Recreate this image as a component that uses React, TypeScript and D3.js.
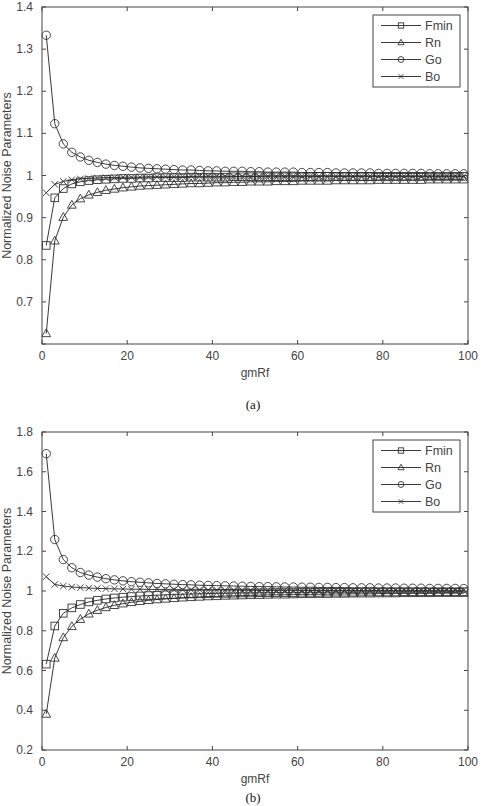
import React from "react";
import * as d3 from "d3";

const xs: number[] = d3.range(1, 100, 2);

const fminA = [0.834,0.947,0.969,0.980,0.985,0.988,0.990,0.991,0.992,0.993,
  0.993,0.994,0.994,0.995,0.995,0.995,0.995,0.996,0.996,0.996,
  0.996,0.996,0.997,0.997,0.997,0.997,0.997,0.997,0.997,0.997,
  0.997,0.997,0.998,0.998,0.998,0.998,0.998,0.998,0.998,0.998,
  0.998,0.998,0.998,0.998,0.998,0.998,0.998,0.998,0.998,0.998];
const rnA = [0.625,0.845,0.901,0.930,0.945,0.954,0.960,0.965,0.968,0.971,
  0.973,0.975,0.976,0.977,0.978,0.979,0.980,0.981,0.981,0.982,
  0.983,0.983,0.984,0.984,0.985,0.985,0.985,0.986,0.986,0.986,
  0.987,0.987,0.987,0.987,0.988,0.988,0.988,0.988,0.988,0.989,
  0.989,0.989,0.989,0.989,0.989,0.990,0.990,0.990,0.990,0.990];
const goA = [1.333,1.123,1.075,1.055,1.044,1.036,1.031,1.027,1.024,1.022,
  1.020,1.018,1.017,1.016,1.015,1.014,1.013,1.013,1.012,1.011,
  1.011,1.010,1.010,1.010,1.009,1.009,1.008,1.008,1.008,1.008,
  1.007,1.007,1.007,1.007,1.006,1.006,1.006,1.006,1.006,1.005,
  1.005,1.005,1.005,1.005,1.005,1.004,1.004,1.004,1.004,1.004];
const boA = [0.959,0.979,0.986,0.990,0.992,0.993,0.994,0.995,0.995,0.996,
  0.996,0.996,0.997,0.997,0.997,0.997,0.997,0.998,0.998,0.998,
  0.998,0.998,0.998,0.998,0.998,0.998,0.999,0.999,0.999,0.999,
  0.999,0.999,0.999,0.999,0.999,0.999,0.999,0.999,0.999,0.999,
  0.999,0.999,0.999,0.999,0.999,0.999,0.999,0.999,0.999,0.999];

const fminB = [0.632,0.824,0.888,0.915,0.932,0.945,0.953,0.960,0.965,0.969,
  0.972,0.975,0.977,0.979,0.981,0.982,0.984,0.985,0.986,0.987,
  0.988,0.988,0.989,0.990,0.990,0.991,0.991,0.992,0.992,0.992,
  0.993,0.993,0.993,0.994,0.994,0.994,0.994,0.995,0.995,0.995,
  0.995,0.995,0.996,0.996,0.996,0.996,0.996,0.996,0.996,0.997];
const rnB = [0.381,0.663,0.766,0.822,0.858,0.885,0.903,0.917,0.928,0.936,
  0.943,0.948,0.953,0.957,0.960,0.963,0.966,0.968,0.970,0.972,
  0.973,0.975,0.976,0.977,0.978,0.979,0.980,0.981,0.981,0.982,
  0.983,0.983,0.984,0.984,0.985,0.985,0.986,0.986,0.986,0.987,
  0.987,0.987,0.988,0.988,0.988,0.988,0.989,0.989,0.989,0.989];
const goB = [1.691,1.259,1.158,1.117,1.093,1.080,1.070,1.062,1.056,1.051,
  1.047,1.044,1.041,1.038,1.036,1.034,1.032,1.031,1.029,1.028,
  1.027,1.026,1.025,1.024,1.023,1.022,1.022,1.021,1.020,1.020,
  1.019,1.019,1.018,1.018,1.017,1.017,1.016,1.016,1.016,1.015,
  1.015,1.015,1.014,1.014,1.014,1.013,1.013,1.013,1.013,1.012];
const boB = [1.072,1.033,1.025,1.020,1.017,1.015,1.013,1.012,1.011,1.010,
  1.009,1.009,1.008,1.008,1.007,1.007,1.006,1.006,1.006,1.005,
  1.005,1.005,1.005,1.004,1.004,1.004,1.004,1.004,1.004,1.004,
  1.003,1.003,1.003,1.003,1.003,1.003,1.003,1.003,1.003,1.003,
  1.003,1.003,1.003,1.003,1.003,1.003,1.003,1.003,1.003,1.003];

const seriesNames = ["Fmin", "Rn", "Go", "Bo"];
const markers = ["square", "triangle", "circle", "cross"];
const xTicks = [0, 20, 40, 60, 80, 100];
const yTicksA = [0.7, 0.8, 0.9, 1, 1.1, 1.2, 1.3, 1.4];
const yTicksB = [0.2, 0.4, 0.6, 0.8, 1, 1.2, 1.4, 1.6, 1.8];

const AX = "#444";
const TXT = "#444";
const LINE = "#222";
const FONT = "'Liberation Sans', Arial, sans-serif";

function Marker({ type, x, y, k = 1 }: { type: string; x: number; y: number; k?: number }) {
  const s = 3.8 * k;
  const common = { fill: "none", stroke: "#333", strokeWidth: 0.9 };
  if (type === "square")
    return <rect x={x - s} y={y - s} width={2 * s} height={2 * s} {...common} />;
  if (type === "circle") return <circle cx={x} cy={y} r={4.2 * k} {...common} />;
  if (type === "triangle")
    return (
      <path
        d={`M${x},${y - 4.6 * k}L${x + 4.4 * k},${y + 3.2 * k}L${x - 4.4 * k},${y + 3.2 * k}Z`}
        {...common}
      />
    );
  const c = 3.2 * k;
  return (
    <path
      d={`M${x - c},${y - c}L${x + c},${y + c}M${x - c},${y + c}L${x + c},${y - c}`}
      {...common}
    />
  );
}

function Panel({
  top,
  bottom,
  domain,
  yTicks,
  data,
  caption,
  captionY,
}: {
  top: number;
  bottom: number;
  domain: [number, number];
  yTicks: number[];
  data: number[][];
  caption: string;
  captionY: number;
}) {
  const left = 42;
  const right = 468;
  const x = d3.scaleLinear().domain([0, 100]).range([left, right]);
  const y = d3.scaleLinear().domain(domain).range([bottom, top]);
  const allYTicks = [domain[0], ...yTicks.filter((t) => t !== domain[0])];
  const line = d3
    .line<number>()
    .x((_, i) => x(xs[i]))
    .y((d) => y(d));
  const tl = 4;
  const legX = 373;
  const legTop = top + 8;
  const legW = 87;
  const legStep = 17;
  const legH = legStep * 3 + 21;
  return (
    <g>
      {data.map((vals, si) => (
        <g key={si}>
          <path d={line(vals) || ""} fill="none" stroke={LINE} strokeWidth={0.9} />
          {vals.map((v, i) => (
            <Marker key={i} type={markers[si]} x={x(xs[i])} y={y(v)} />
          ))}
        </g>
      ))}
      <rect
        x={left}
        y={top}
        width={right - left}
        height={bottom - top}
        fill="none"
        stroke={AX}
        strokeWidth={1}
      />
      {xTicks.map((t) => (
        <g key={t}>
          <line x1={x(t)} x2={x(t)} y1={bottom} y2={bottom - tl} stroke={AX} />
          <line x1={x(t)} x2={x(t)} y1={top} y2={top + tl} stroke={AX} />
          <text
            x={x(t)}
            y={bottom + 16}
            textAnchor="middle"
            fontFamily={FONT}
            fontSize={12}
            fill={TXT}
          >
            {t}
          </text>
        </g>
      ))}
      {allYTicks.map((t) => (
        <g key={t}>
          <line x1={left} x2={left + tl} y1={y(t)} y2={y(t)} stroke={AX} />
          <line x1={right} x2={right - tl} y1={y(t)} y2={y(t)} stroke={AX} />
          {yTicks.includes(t) && (
            <text
              x={left - 9}
              y={y(t) + 4}
              textAnchor="end"
              fontFamily={FONT}
              fontSize={12}
              fill={TXT}
            >
              {d3.format("~g")(t)}
            </text>
          )}
        </g>
      ))}
      <text
        x={x(50)}
        y={bottom + 33}
        textAnchor="middle"
        fontFamily={FONT}
        fontSize={12}
        fill={TXT}
      >
        gmRf
      </text>
      <text
        transform={`translate(11,${(top + bottom) / 2}) rotate(-90)`}
        textAnchor="middle"
        fontFamily={FONT}
        fontSize={12.5}
        fill={TXT}
      >
        Normalized Noise Parameters
      </text>
      <rect x={legX} y={legTop} width={legW} height={legH} fill="#fff" stroke={AX} />
      {seriesNames.map((n, i) => {
        const ly = legTop + 10.5 + i * legStep;
        return (
          <g key={n}>
            <line x1={legX + 8} x2={legX + 48} y1={ly} y2={ly} stroke={LINE} strokeWidth={0.9} />
            <Marker type={markers[i]} x={legX + 28} y={ly} k={0.7} />
            <text x={legX + 52} y={ly + 4.5} fontFamily={FONT} fontSize={12.5} fill={TXT}>
              {n}
            </text>
          </g>
        );
      })}
      <text
        x={253}
        y={captionY}
        textAnchor="middle"
        fontFamily="'Liberation Serif', 'Times New Roman', serif"
        fontSize={13}
        fill="#111"
      >
        {caption}
      </text>
    </g>
  );
}

export default function App() {
  return (
    <svg
      width={481}
      height={806}
      style={{ position: "absolute", left: 0, top: 0, background: "#fff" }}
    >
      <rect x={0} y={0} width={481} height={806} fill="#fff" />
      <Panel
        top={7}
        bottom={344}
        domain={[0.6, 1.4]}
        yTicks={yTicksA}
        data={[fminA, rnA, goA, boA]}
        caption="(a)"
        captionY={409}
      />
      <Panel
        top={432}
        bottom={750}
        domain={[0.2, 1.8]}
        yTicks={yTicksB}
        data={[fminB, rnB, goB, boB]}
        caption="(b)"
        captionY={802}
      />
    </svg>
  );
}
